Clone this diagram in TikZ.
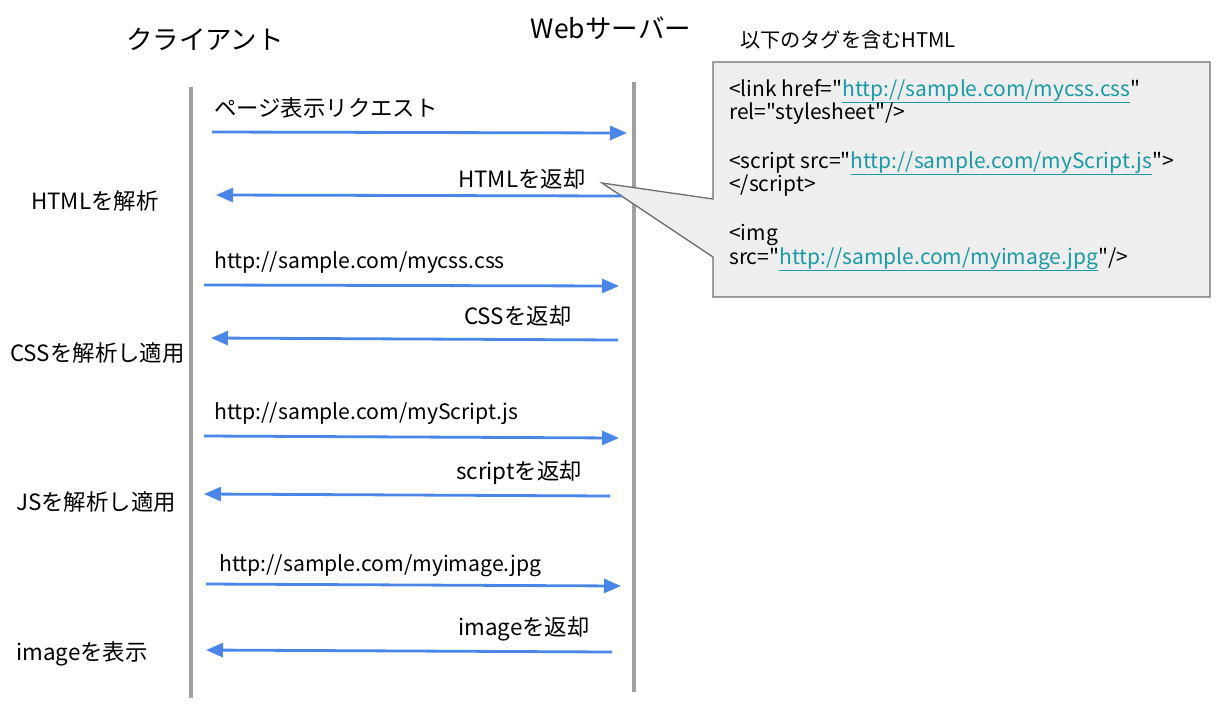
\documentclass[tikz,border=0pt]{standalone}
\usepackage{fontspec}
\setmainfont{Noto Sans CJK JP}
\newfontfamily\codefont{Noto Sans CJK JP}
\usetikzlibrary{arrows.meta}
\definecolor{arrowblue}{HTML}{4A86E8}
\definecolor{lifegray}{HTML}{A0A0A0}
\definecolor{boxfill}{HTML}{EEEEEE}
\definecolor{boxline}{HTML}{6E6E6E}
\definecolor{linkc}{HTML}{1A9AA6}
\newcommand{\lnk}[1]{\textcolor{linkc}{\underline{#1}}}
\begin{document}
\begin{tikzpicture}[x=1pt,y=-1pt,
  lifeline/.style={draw=lifegray,line width=4pt},
  msg/.style={draw=arrowblue,line width=2.8pt,-{Triangle[length=17pt,width=14pt]}},
  lbl/.style={inner sep=0pt,anchor=west,font=\fontsize{22.4}{26}\selectfont},
  url/.style={inner sep=0pt,anchor=west,font=\fontsize{21.2}{25}\selectfont},
  title/.style={inner sep=0pt,font=\fontsize{26.5}{30}\selectfont},
  codetxt/.style={inner sep=0pt,anchor=base west,font=\codefont\fontsize{21}{24}\selectfont}]
\useasboundingbox (0,0) rectangle (1217,705);
% titles
\node[title] (tc) at (205,39) {クライアント};
\node[title] (ts) at (611,28) {Webサーバー};
\node[inner sep=0pt,font=\fontsize{20.2}{24}\selectfont] (tb) at (848,40) {以下のタグを含むHTML};
% lifelines
\coordinate (c1) at (191,87); \coordinate (c2) at (191,698);
\coordinate (s1) at (634,82); \coordinate (s2) at (634,692);
\draw[lifeline] (c1) -- (c2);
\draw[lifeline] (s1) -- (s2);
% callout
\coordinate (b1) at (713,62); \coordinate (b2) at (1210,62);
\coordinate (b3) at (1210,297); \coordinate (b4) at (713,297);
\coordinate (p1) at (713,257); \coordinate (tip) at (602,183); \coordinate (p2) at (713,199);
\draw[boxline,fill=boxfill,line width=1.3pt] (b1) -- (b2) -- (b3) -- (b4) -- (p1) -- (tip) -- (p2) -- cycle;
\node[codetxt] (k1) at (729,96) {<link href="\lnk{http://sample.com/mycss.css}"};
\node[codetxt] (k2) at (729,119) {rel="stylesheet"/>};
\node[codetxt] (k3) at (729,168) {<script src="\lnk{http://sample.com/myScript.js}">};
\node[codetxt] (k4) at (729,191) {</script>};
\node[codetxt] (k5) at (729,240) {<img};
\node[codetxt] (k6) at (729,264) {src="\lnk{http://sample.com/myimage.jpg}"/>};
% messages
\coordinate (a1s) at (212,132); \coordinate (a1e) at (627,133);
\coordinate (a2s) at (622,196); \coordinate (a2e) at (216,195);
\coordinate (a3s) at (204,285); \coordinate (a3e) at (619,286);
\coordinate (a4s) at (618,340); \coordinate (a4e) at (211,338);
\coordinate (a5s) at (204,436); \coordinate (a5e) at (619,438);
\coordinate (a6s) at (610,496); \coordinate (a6e) at (204,494);
\coordinate (a7s) at (206,584); \coordinate (a7e) at (621,586);
\coordinate (a8s) at (612,652); \coordinate (a8e) at (206,650);
\draw[msg] (a1s) -- (a1e);
\draw[msg] (a2s) -- (a2e);
\draw[msg] (a3s) -- (a3e);
\draw[msg] (a4s) -- (a4e);
\draw[msg] (a5s) -- (a5e);
\draw[msg] (a6s) -- (a6e);
\draw[msg] (a7s) -- (a7e);
\draw[msg] (a8s) -- (a8e);
% message labels
\node[lbl] (m1) at (214,108) {ページ表示リクエスト};
\node[lbl] (m2) at (458,179) {HTMLを返却};
\node[url] (m3) at (214,263) {http://sample.com/mycss.css};
\node[lbl] (m4) at (464,316) {CSSを返却};
\node[url] (m5) at (214,414) {http://sample.com/myScript.js};
\node[lbl] (m6) at (456,473) {scriptを返却};
\node[url] (m7) at (219,566) {http://sample.com/myimage.jpg};
\node[lbl] (m8) at (458,629) {imageを返却};
% client side labels
\node[lbl] (l1) at (31,201) {HTMLを解析};
\node[lbl] (l2) at (10,353) {CSSを解析し適用};
\node[lbl] (l3) at (16,502) {JSを解析し適用};
\node[lbl] (l4) at (16,654) {imageを表示};
\end{tikzpicture}
\end{document}
